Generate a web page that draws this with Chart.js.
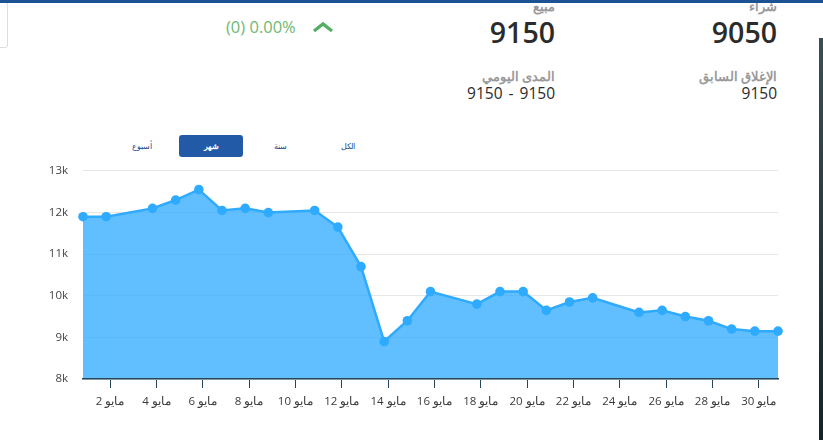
<!DOCTYPE html>
<html lang="ar">
<head>
<meta charset="utf-8">
<script src="https://cdn.jsdelivr.net/npm/chart.js@4/dist/chart.umd.min.js"></script>
<style>
html,body{margin:0;padding:0;background:#fff;overflow:hidden;}
body{width:823px;height:440px;position:relative;font-family:"Open Sans","Noto Sans",sans-serif;}
.abs{position:absolute;white-space:nowrap;}
.r{direction:rtl;text-align:right;}
.topbar{left:0;top:0;width:823px;height:3px;background:#1a5293;z-index:5;}
.sidebox{left:-6px;top:2px;width:12px;height:44px;border:1px solid #ddd;border-radius:3px;}
.strip{left:819px;top:38px;width:4px;height:402px;background:linear-gradient(#3a4f55,#10242a);}
.lbl{font-size:13px;font-weight:600;color:#9a9a9a;line-height:16px;}
.big{font-size:28.5px;font-weight:600;color:#2b2b2b;line-height:36px;direction:ltr;}
.mid{font-size:15.5px;font-weight:500;color:#2b2b2b;line-height:20px;direction:ltr;word-spacing:2px;}
.chg{left:226px;top:16px;font-size:16.5px;color:#6fb873;line-height:22px;}
.btn{top:135px;height:22px;line-height:22px;font-size:8px;color:#1d4a8c;text-align:center;border-radius:3px;}
.btn.on{background:#235aa8;color:#fff;font-weight:700;}
#wrap{position:absolute;left:0;top:149px;width:823px;height:291px;}
</style>
</head>
<body>
<div class="abs topbar"></div>
<div class="abs sidebox"></div>
<div class="abs strip"></div>

<div class="abs chg">(0) 0.00%</div>
<svg class="abs" style="left:312px;top:21px" width="22" height="13"><polyline points="2,10 11,3 20,10" fill="none" stroke="#55ae66" stroke-width="3.4"/></svg>

<div class="abs r lbl" style="right:268px;top:-2px">مبيع</div>
<div class="abs r big" style="right:268px;top:14px">9150</div>
<div class="abs r lbl" style="right:268px;top:68px">المدى اليومي</div>
<div class="abs r mid" style="right:268px;top:83px">9150 - 9150</div>

<div class="abs r lbl" style="right:46px;top:-2px">شراء</div>
<div class="abs r big" style="right:46px;top:14px">9050</div>
<div class="abs r lbl" style="right:46px;top:68px">الإغلاق السابق</div>
<div class="abs r mid" style="right:46px;top:83px">9150</div>

<div class="abs btn" style="left:110px;width:64px">أسبوع</div>
<div class="abs btn on" style="left:179px;width:64px">شهر</div>
<div class="abs btn" style="left:248px;width:64px">سنة</div>
<div class="abs btn" style="left:316px;width:64px">الكل</div>

<div id="wrap"><canvas id="chart"></canvas></div>

<script>
// points sit a little before the day tick (timezone shift)
const days = [0.83,1.83,3.83,4.83,5.83,6.83,7.83,8.83,10.83,11.83,12.83,13.83,14.83,15.83,17.83,18.83,19.83,20.83,21.83,22.83,24.83,25.83,26.83,27.83,28.83,29.83,30.83];
const prices = [11900,11900,12100,12300,12550,12050,12100,12000,12050,11650,10700,8900,9400,10100,9800,10100,10100,9650,9850,9950,9600,9650,9500,9400,9200,9150,9150];
const dayTicks = [2,4,6,8,10,12,14,16,18,20,22,24,26,28,30];
const priceTicks = [8000,9000,10000,11000,12000,13000];
const monthName = "مايو";

const fontFamily = `"Open Sans","Noto Sans",sans-serif`;

new Chart(document.getElementById("chart"),{
    type : "line",
    data : {
        datasets : [{
            data : days.map((d,i)=>({x:d,y:prices[i]})),
            borderColor : "#2eaaff",
            borderWidth : 2.5,
            backgroundColor : "rgba(45,170,255,0.75)",
            fill : "origin",
            tension : 0,
            pointRadius : 4.8,
            pointBackgroundColor : "#2eaaff",
            pointBorderWidth : 0,
            clip : false
        }]
    },
    options : {
        responsive : true,
        maintainAspectRatio : false,
        animation : false,
        layout : { padding : { top:10, right:45, left:0, bottom:0 } },
        plugins : { legend : { display:false }, tooltip : { enabled:false } },
        scales : {
            x : {
                type : "linear",
                min : days[0],
                max : days[days.length-1],
                afterBuildTicks : axis => { axis.ticks = dayTicks.map(value=>({value})); },
                afterFit : axis => { axis.height = 61; },
                border : { display:true, color:"#24455a", width:1.5, z:1 },
                grid : { display:true, drawOnChartArea:false, drawTicks:true, tickLength:9, tickColor:"#24455a" },
                ticks : {
                    autoSkip : false,
                    maxRotation : 0,
                    padding : 7,
                    color : "#3a3a3a",
                    font : { family:fontFamily, size:11.5 },
                    callback : v => `${v} ${monthName}`
                }
            },
            y : {
                min : 8000,
                max : 13000,
                afterBuildTicks : axis => { axis.ticks = priceTicks.map(value=>({value})); },
                afterFit : axis => { axis.width = 83; },
                border : { display:false },
                grid : { color:"#e6e6e6", lineWidth:1, drawTicks:false },
                ticks : {
                    padding : 15,
                    color : "#444",
                    font : { family:fontFamily, size:11.5 },
                    callback : v => (v/1000)+"k"
                }
            }
        }
    }
});
</script>
</body>
</html>
